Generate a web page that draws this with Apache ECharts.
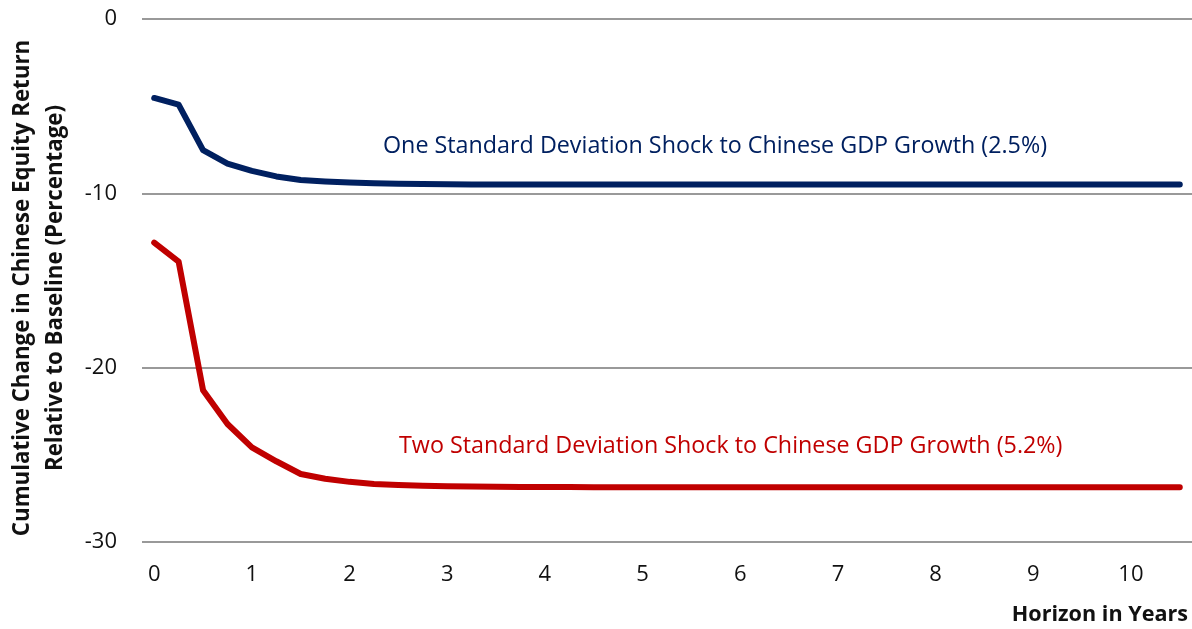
<!DOCTYPE html>
<html>
<head>
<meta charset="utf-8">
<script src="https://cdn.jsdelivr.net/npm/echarts@6/dist/echarts.min.js"></script>
<style>
  html, body { margin: 0; padding: 0; background: #fff; }
  #chart { width: 1192px; height: 629px; }
</style>
</head>
<body>
<div id="chart"></div>
<script>
// Horizon in quarters, 0 to 10.5 years
const quarters = [];
for (let i = 0; i <= 42; i++) quarters.push(i / 4);

// Cumulative change in Chinese equity return relative to baseline (%)
const oneSdShock = [
  -4.53, -4.91, -7.52, -8.29, -8.71, -9.03, -9.24, -9.32, -9.38, -9.42,
  -9.45, -9.47, -9.48, -9.49, -9.50, -9.50, -9.50, -9.50, -9.50, -9.50,
  -9.50, -9.50, -9.50, -9.50, -9.50, -9.50, -9.50, -9.50, -9.50, -9.50,
  -9.50, -9.50, -9.50, -9.50, -9.50, -9.50, -9.50, -9.50, -9.50, -9.50,
  -9.50, -9.50, -9.50
];
const twoSdShock = [
  -12.83, -13.92, -21.29, -23.23, -24.57, -25.37, -26.10, -26.37, -26.55, -26.67,
  -26.73, -26.77, -26.80, -26.82, -26.83, -26.84, -26.85, -26.85, -26.86, -26.86,
  -26.86, -26.86, -26.86, -26.86, -26.86, -26.86, -26.86, -26.86, -26.86, -26.86,
  -26.86, -26.86, -26.86, -26.86, -26.86, -26.86, -26.86, -26.86, -26.86, -26.86,
  -26.86, -26.86, -26.86
];

const seriesNames = [
  'One Standard Deviation Shock to Chinese GDP Growth (2.5%)',
  'Two Standard Deviation Shock to Chinese GDP Growth (5.2%)'
];
const yTitleLines = ['Cumulative Change in Chinese Equity Return', 'Relative to Baseline (Percentage)'];
const xTitle = 'Horizon in Years';

const FONT = '"Open Sans", Lato, sans-serif';
const BLUE = '#002060';
const RED = '#C00000';

const chart = echarts.init(document.getElementById('chart'));
chart.setOption({
  animation: false,
  grid: { left: 142, right: 0, top: 19, bottom: 87 },
  xAxis: {
    type: 'category',
    boundaryGap: true,
    data: quarters.map(String),
    axisLine: { show: false },
    axisTick: { show: false },
    axisLabel: {
      interval: 3,
      margin: 22,
      fontFamily: FONT,
      fontSize: 22,
      color: '#111',
      formatter: v => String(Math.round(Number(v)))
    }
  },
  yAxis: {
    type: 'value',
    min: -30,
    max: 0,
    interval: 10,
    axisLine: { show: false },
    axisTick: { show: false },
    axisLabel: { margin: 25, fontFamily: FONT, fontSize: 22, color: '#111' },
    splitLine: { lineStyle: { color: '#999999', width: 2 } }
  },
  series: [
    {
      name: seriesNames[0], type: 'line', data: oneSdShock, showSymbol: false,
      lineStyle: { color: BLUE, width: 6, cap: 'round', join: 'round' }
    },
    {
      name: seriesNames[1], type: 'line', data: twoSdShock, showSymbol: false,
      lineStyle: { color: RED, width: 6, cap: 'round', join: 'round' }
    }
  ],
  graphic: [
    {
      type: 'text', left: 383, top: 135,
      style: { text: seriesNames[0], fill: BLUE, font: '23.3px ' + FONT }
    },
    {
      type: 'text', left: 399, top: 435,
      style: { text: seriesNames[1], fill: RED, font: '23.3px ' + FONT }
    },
    {
      type: 'text', x: 39, y: 288, rotation: Math.PI / 2,
      style: {
        text: yTitleLines.join('\n'), fill: '#111', font: 'bold 22.3px ' + FONT,
        align: 'center', verticalAlign: 'middle', lineHeight: 33
      }
    },
    {
      type: 'text', right: 4, top: 604,
      style: { text: xTitle, fill: '#111', font: 'bold 21.6px ' + FONT }
    }
  ]
});
</script>
</body>
</html>
